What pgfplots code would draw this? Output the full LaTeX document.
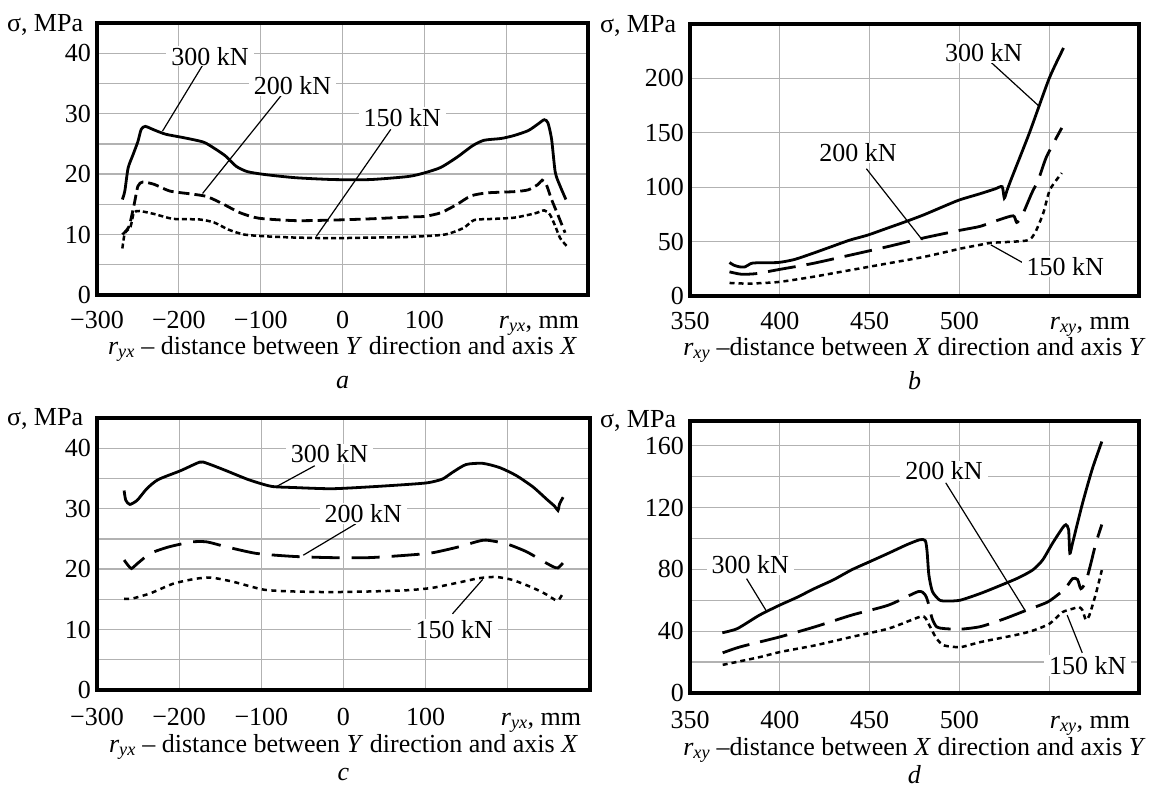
\documentclass[border=0pt]{standalone}
\usepackage{fontspec}
\setmainfont{Liberation Serif}
\usepackage{pgfplots}
\pgfplotsset{compat=1.18}

\pgfplotsset{
  panel/.style={
    scale only axis, height=272pt, anchor=south west, clip=false,
    axis line style={line width=3.4pt},
    grid=major,
    major grid style={line width=1.3pt, color=black!30},
    major tick length=0pt, minor tick length=0pt,
    xticklabel style={anchor=base, inner sep=0pt, yshift=-33pt},
    yticklabel style={anchor=east, inner sep=0pt, xshift=-6pt},
  },
}
\tikzset{
  s300/.style={black, line width=2.8pt, smooth, tension=0.4},
  s200/.style={black, line width=2.8pt, smooth, tension=0.4, dash pattern=on 28pt off 11pt},
  s150/.style={black, line width=2.5pt, smooth, tension=0.4, dash pattern=on 5pt off 4pt},
  lbl/.style={fill=white, inner xsep=5pt, inner ysep=1pt},
  lead/.style={black, line width=1.2pt},
}

\begin{document}
\fontsize{26}{31}\selectfont
\begin{tikzpicture}

% a
\begin{axis}[panel, at={(97pt,-295pt)}, width=491pt,
  xmin=-300, xmax=300, ymin=0, ymax=45,
  xtick={-300,-200,...,200}, xticklabels={−300,−200,−100,0,100,{}},
  ytick={0,5,...,40}, yticklabels={0,,10,,20,,30,,40}]
\addplot[s300] coordinates {(-269,15.8) (-266,17.2) (-262,21.0) (-256,23.2) (-250,25.4) (-246,27.4) (-241,27.9) (-230,27.3) (-216,26.6) (-193,26.0) (-170,25.3) (-157,24.3) (-143,23.0) (-130,21.3) (-116,20.4) (-93,19.9) (-57,19.4) (-11,19.1) (34,19.1) (80,19.6) (100,20.2) (120,21.1) (140,22.8) (159,24.7) (173,25.6) (194,25.9) (210,26.4) (227,27.2) (239,28.3) (246.5,29.0) (251,28.5) (255.5,25.8) (260,20.3) (266,18.0) (273,15.8)};
\addplot[s200, dash pattern=on 11pt off 5pt] coordinates {(-269,10.0) (-261,11.3) (-255,14.7) (-250,18.0) (-244,18.7) (-230,18.3) (-211,17.2) (-184,16.7) (-166,16.3) (-148,15.2) (-125,13.6) (-102,12.7) (-57,12.3) (-11,12.4) (34,12.6) (80,12.9) (100,13.0) (120,13.6) (140,15.0) (157,16.4) (177,16.9) (210,17.1) (227,17.4) (239,18.3) (244,19.0) (249,18.3) (255.5,15.8) (264,13.0) (272,10.3)};
\addplot[s150, dash pattern=on 5pt off 3pt] coordinates {(-269,7.7) (-266,10.2) (-259,11.3) (-255,13.6) (-248,13.9) (-230,13.4) (-207,12.6) (-175,12.5) (-157,12.0) (-139,10.8) (-120,10.0) (-93,9.7) (-57,9.5) (-11,9.4) (34,9.5) (80,9.6) (125,10.0) (148,11.1) (161,12.4) (186,12.6) (210,12.8) (235,13.5) (246.5,14.0) (253.5,13.3) (260,11.4) (266,9.4) (276,7.8)};
\draw[lead] (-171,38) -- (-220,27.1);
\draw[lead] (-75,33) -- (-171,16.8);
\draw[lead] (59,27.4) -- (-32,9.7);
\node[lbl] at (-162,39.5) {300 kN};
\node[lbl] at (-61,34.6) {200 kN};
\node[lbl] at (73,29.4) {150 kN};
\node[anchor=base east, xshift=-5pt, yshift=-8pt] at (axis description cs:0,1) {σ, MPa};
\node[anchor=base east, yshift=-33pt] at (axis description cs:1,0) {\textit{r}\textsubscript{\textit{yx}}, mm};
\node[anchor=base, yshift=-59pt] at (axis description cs:0.5,0) {\textit{r}\textsubscript{\textit{yx}} – distance between \textit{Y} direction and axis \textit{X}};
\node[anchor=base, yshift=-93pt] at (axis description cs:0.5,0) {\textit{a}};
\end{axis}

% b
\begin{axis}[panel, at={(690pt,-296pt)}, width=449pt,
  xmin=350, xmax=600, ymin=0, ymax=250,
  xtick={350,400,...,550}, xticklabels={350,400,450,500,{}},
  ytick={0,50,...,200}, yticklabels={0,50,100,150,200}]
\addplot[s300] coordinates {(372,30.8) (374.4,28.3) (377.6,26.8) (380.7,26.8) (383.8,29.8) (387,30.5) (399,30.8) (408,33.5) (418,39) (428.5,45.2) (439,51.4) (449,56) (459.6,62.2) (470,68.3) (480,74.5) (491,82.2) (500,88.3) (511.5,94) (520,98.5) (523.8,100.5) (525,90) (526.5,97) (529,108) (539,150) (550,200) (558,228)};
\addplot[s200] coordinates {(372,22.2) (378.6,20) (387,20.6) (399.4,24.3) (418,29.8) (439,37.5) (459.6,45.2) (480.4,53.5) (501,60.6) (511.5,64) (522,70) (530,73.7) (531.9,67.6) (534.7,73.1) (540.3,94.6) (544,107) (548.6,128.4) (557,154.5)};
\addplot[s150] coordinates {(372,12) (382.8,11.4) (399.4,12.9) (418,17.5) (439,23.7) (459.6,29.8) (480.4,36) (501,43.7) (511.5,47) (518,48.9) (537.5,51) (542,57.8) (546.7,76.2) (550.4,97.7) (557,113)};
\draw[lead] (516.8,216) -- (544,175);
\draw[lead] (448.2,117) -- (479.4,51.4);
\draw[lead] (537,29) -- (517.5,47);
\node[lbl] at (513.6,223.7) {300 kN};
\node[lbl] at (443.6,131.4) {200 kN};
\node[lbl] at (559,27) {150 kN};
\node[anchor=base east, xshift=-5pt, yshift=-8pt] at (axis description cs:0,1) {σ, MPa};
\node[anchor=base east, yshift=-33pt] at (axis description cs:1,0) {\textit{r}\textsubscript{\textit{xy}}, mm};
\node[anchor=base, yshift=-59pt] at (axis description cs:0.5,0) {\textit{r}\textsubscript{\textit{xy}} –distance between \textit{X} direction and axis \textit{Y}};
\node[anchor=base, yshift=-93pt] at (axis description cs:0.5,0) {\textit{b}};
\end{axis}

% c
\begin{axis}[panel, at={(97pt,-690pt)}, width=493pt,
  xticklabel style={yshift=-2pt},
  xmin=-300, xmax=300, ymin=0, ymax=45,
  xtick={-300,-200,...,200}, xticklabels={−300,−200,−100,0,100,{}},
  ytick={0,5,...,40}, yticklabels={0,,10,,20,,30,,40}]
\addplot[s300] coordinates {(-267,33) (-265,31.4) (-260,30.7) (-251,31.4) (-239.4,33.3) (-225.7,34.8) (-198,36.3) (-175,37.7) (-166,37.5) (-143,36.3) (-115.6,34.8) (-88,33.7) (-60.6,33.5) (-14.7,33.3) (31,33.6) (77,34) (103,34.3) (120.4,34.9) (132.6,36) (149,37.3) (169.4,37.5) (190,36.8) (210,35.5) (230.6,33.6) (247,31.6) (257,30.4) (261,29.7) (263,30.8) (267.3,31.9)};
\addplot[s200, dash pattern=on 28pt off 12pt] coordinates {(-267,21.5) (-262,20.6) (-258,20.1) (-251,20.9) (-235,22.6) (-212,23.7) (-184,24.5) (-166,24.5) (-143,23.7) (-106,22.6) (-60.6,22.1) (-14.7,21.9) (31,21.9) (77,22.3) (108,22.7) (140.8,23.7) (161,24.5) (173.5,24.8) (198,24.2) (222.4,22.9) (243,21.3) (255,20.4) (261,20.2) (267,21)};
\addplot[s150, dash pattern=on 5pt off 4.5pt] coordinates {(-267,15.1) (-258,15.1) (-235,16) (-207,17.6) (-180,18.4) (-161,18.6) (-134,17.9) (-97,16.6) (-60.6,16.3) (-14.7,16.2) (31,16.3) (77,16.5) (108,16.9) (140.8,17.8) (165,18.5) (185.7,18.7) (206,18.2) (230.6,16.9) (247,15.8) (259,14.8) (263,15.1) (267,16)};
\draw[lead] (-35,37.1) -- (-81,33.7);
\draw[lead] (15,27.5) -- (-49,22.3);
\draw[lead] (132.6,12.6) -- (169.4,18.3);
\node[lbl] at (-17,39.1) {300 kN};
\node[lbl] at (24,29.2) {200 kN};
\node[lbl] at (134.7,10) {150 kN};
\node[anchor=base east, xshift=-5pt, yshift=-7pt] at (axis description cs:0,1) {σ, MPa};
\node[anchor=base east, yshift=-35pt] at (axis description cs:1,0) {\textit{r}\textsubscript{\textit{yx}}, mm};
\node[anchor=base, yshift=-62pt] at (axis description cs:0.5,0) {\textit{r}\textsubscript{\textit{yx}} – distance between \textit{Y} direction and axis \textit{X}};
\node[anchor=base, yshift=-90pt] at (axis description cs:0.5,0) {\textit{c}};
\end{axis}

% d
\begin{axis}[panel, at={(690pt,-693pt)}, width=449pt,
  xticklabel style={yshift=-2pt},
  xmin=350, xmax=600, ymin=0, ymax=176,
  xtick={350,400,...,550}, xticklabels={350,400,450,500,{}},
  ytick={0,20,...,160}, yticklabels={0,,40,,80,,120,,160}]
\addplot[s300] coordinates {(368,39) (376.4,41.7) (388.7,50.4) (400,56.9) (409.2,61.7) (419.5,67.7) (429.8,73.2) (440,79.7) (450.3,85.1) (460.6,90.5) (470.8,96) (478,99.2) (481,98.6) (482,91.6) (483,76.4) (485,65.6) (489,60.1) (493.4,59.5) (500.6,60.1) (511.9,64.5) (522.2,69.3) (532.4,74.3) (540.7,79.5) (546.3,86) (551.9,97) (557.4,106.8) (559.3,108.9) (560.8,105.7) (561.5,90.4) (563,97) (568.6,123) (574,145) (579.3,162.7)};
\addplot[s200] coordinates {(368.2,26) (378.4,30) (400,36.3) (419.5,42.8) (440,50.4) (460.6,56.9) (477,65.6) (481,63.4) (483,56.9) (484.8,48.2) (487.3,42.8) (491.4,41.7) (500.6,41.3) (511.9,43) (525,48) (537,53.4) (549,58.8) (555.6,64.3) (558.3,66.4) (563,74) (565.8,73.4) (567.6,67.5) (570.4,71.9) (573.2,83.9) (576,97) (579.3,109)};
\addplot[s150] coordinates {(368.2,18.2) (388.7,23.2) (400,26.5) (419.5,30.8) (440,36.3) (460.6,41.7) (478,49.3) (481,48.6) (484.2,41.7) (487.3,35.2) (491.4,30.8) (500.6,29.7) (511.9,33) (532.4,37.8) (540.7,40.3) (550,44.7) (557.4,52.3) (563,54.5) (566.7,55.6) (568.6,53.4) (570.4,47.3) (572.3,50.1) (576,64.3) (579.3,79.5)};
\draw[lead] (381.5,74) -- (392.8,52.5);
\draw[lead] (492.4,136) -- (536.6,53.4);
\draw[lead] (568.4,26) -- (560,50.4);
\node[lbl] at (383.6,82.9) {300 kN};
\node[lbl] at (491.4,143.7) {200 kN};
\node[lbl] at (571.5,17.8) {150 kN};
\node[anchor=base east, xshift=-5pt, yshift=-6pt] at (axis description cs:0,1) {σ, MPa};
\node[anchor=base east, yshift=-35pt] at (axis description cs:1,0) {\textit{r}\textsubscript{\textit{xy}}, mm};
\node[anchor=base, yshift=-62pt] at (axis description cs:0.5,0) {\textit{r}\textsubscript{\textit{xy}} –distance between \textit{X} direction and axis \textit{Y}};
\node[anchor=base, yshift=-90pt] at (axis description cs:0.5,0) {\textit{d}};
\end{axis}

\pgfresetboundingbox
\path[use as bounding box] (0,0) rectangle (1151pt,-800pt);
\end{tikzpicture}
\end{document}
